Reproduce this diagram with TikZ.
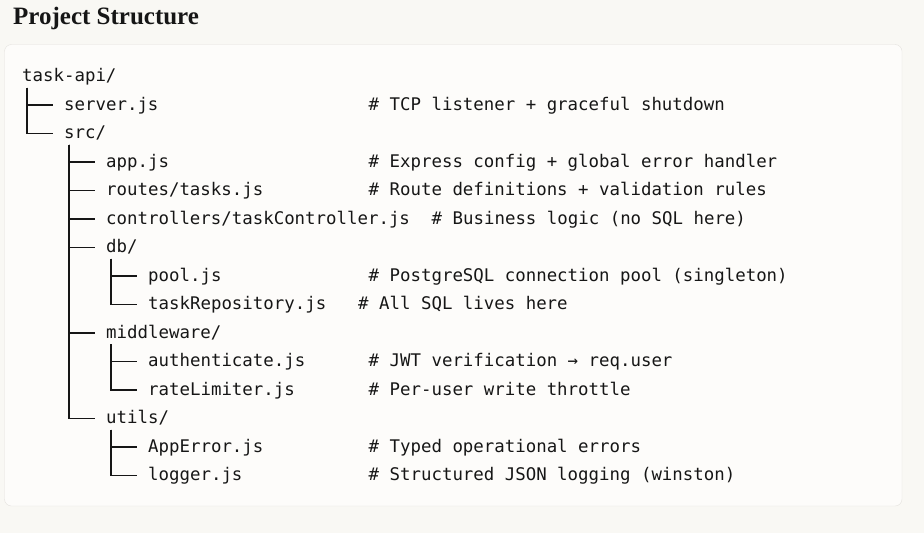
\documentclass[tikz,border=0pt]{standalone}
\usepackage{fontspec}
\usepackage{tikz}
\newfontfamily\titlefont{Liberation Serif}
\newfontfamily\codefont{DejaVu Sans Mono}
\definecolor{pagebg}{RGB}{249,248,244}
\definecolor{boxbg}{RGB}{253,252,250}
\definecolor{boxline}{RGB}{228,226,222}
\definecolor{ink}{RGB}{22,22,22}

\begin{document}
\begin{tikzpicture}[x=1pt,y=-1pt,every node/.style={inner sep=0pt,anchor=west,text height=10pt,text depth=0pt,text=ink,font=\codefont\fontsize{17.4}{20}\selectfont},
				branch/.style={draw=ink,line width=1.8pt}
				]
				\fill[pagebg] (0,0) rectangle (924,533);
				\draw[boxline,fill=boxbg,rounded corners=7pt] (4.5,44.5) rectangle (902,506);
				\node[anchor=base west,text height=,font=\titlefont\bfseries\fontsize{25}{30}\selectfont] (title) at (13,24.5) {Project Structure};
				\node (root) at (22,76.5) {task-api/};
				\node (server) at (64,105) {server.js};
				\node (src) at (64,133.5) {src/};
				\node (app) at (106,162) {app.js};
				\node (routes) at (106,190.5) {routes/tasks.js};
				\node (ctrl) at (106,219) {controllers/taskController.js};
				\node (db) at (106,247.5) {db/};
				\node (pool) at (148,276) {pool.js};
				\node (repo) at (148,304.5) {taskRepository.js};
				\node (mw) at (106,333) {middleware/};
				\node (auth) at (148,361.5) {authenticate.js};
				\node (rate) at (148,390) {rateLimiter.js};
				\node (utils) at (106,418.5) {utils/};
				\node (apperr) at (148,447) {AppError.js};
				\node (logger) at (148,475.5) {logger.js};
				\node (cserver) at (368.5,105) {\# TCP listener + graceful shutdown};
				\node (capp) at (368.5,162) {\# Express config + global error handler};
				\node (croutes) at (368.5,190.5) {\# Route definitions + validation rules};
				\node (cctrl) at (431.5,219) {\# Business logic (no SQL here)};
				\node (cpool) at (368.5,276) {\# PostgreSQL connection pool (singleton)};
				\node (crepo) at (358,304.5) {\# All SQL lives here};
				\node (cauth) at (368.5,361.5) {\# JWT verification → req.user};
				\node (crate) at (368.5,390) {\# Per-user write throttle};
				\node (capperr) at (368.5,447) {\# Typed operational errors};
				\node (clogger) at (368.5,475.5) {\# Structured JSON logging (winston)};
				\foreach \parent/\kid in {root/server,root/src,src/app,src/routes,src/ctrl,src/db,src/mw,src/utils,db/pool,db/repo,mw/auth,mw/rate,utils/apperr,utils/logger}
					\draw[branch] ([xshift=5pt,yshift=-6pt]\parent.south west) |- ([xshift=-11pt]\kid.west);
			\end{tikzpicture}
\end{document}
